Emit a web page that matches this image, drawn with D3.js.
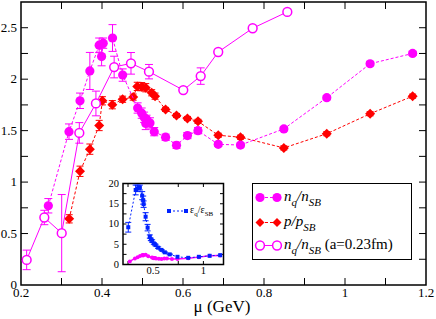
<!DOCTYPE html>
<html>
<head>
<meta charset="utf-8">
<script src="https://cdn.jsdelivr.net/npm/d3@7"></script>
<style>
  html, body { margin: 0; padding: 0; background: #fff; }
  svg { display: block; font-family: 'Liberation Serif', 'Times New Roman', serif; }
</style>
</head>
<body>
<div id="chart"></div>
<script>
// n_q / n_SB (filled circles)
const nqMu = [0.2675, 0.3185, 0.3457, 0.370, 0.393, 0.399, 0.403, 0.426, 0.451, 0.488, 0.498, 0.504, 0.508, 0.510, 0.5185, 0.529, 0.557, 0.584, 0.611, 0.637, 0.687, 0.742, 0.849, 0.955, 1.062, 1.167];
const nqVal = [0.77, 1.49, 1.79, 2.08, 2.33, 2.22, 2.35, 2.40, 2.04, 1.72, 1.67, 1.63, 1.57, 1.61, 1.575, 1.49, 1.436, 1.358, 1.452, 1.50, 1.367, 1.36, 1.517, 1.82, 2.15, 2.25];
const nqErr = [0.07, 0.075, 0.075, 0.18, 0.07, 0.09, 0.05, 0.13, 0.06, 0.05, 0.05, 0.05, 0.06, 0.04, 0.05, 0.04, 0.03, 0.03, 0.03, 0.03, 0.02, 0.02, 0.02, 0.02, 0.02, 0.02];

// p / p_SB (diamonds)
const pMu = [0.319, 0.3457, 0.370, 0.393, 0.401, 0.4255, 0.451, 0.477, 0.487, 0.498, 0.508, 0.5227, 0.531, 0.557, 0.584, 0.611, 0.637, 0.687, 0.742, 0.849, 0.955, 1.062, 1.167];
const pVal = [0.643, 1.105, 1.32, 1.55, 1.79, 1.752, 1.805, 1.826, 1.93, 1.927, 1.917, 1.868, 1.835, 1.706, 1.647, 1.618, 1.59, 1.455, 1.436, 1.332, 1.47, 1.664, 1.835];
const pErr = [0.04, 0.05, 0.05, 0.05, 0.04, 0.04, 0.03, 0.03, 0.04, 0.04, 0.04, 0.03, 0.03, 0.02, 0.02, 0.02, 0.02, 0.02, 0.02, 0.02, 0.02, 0.02, 0.02];

// n_q / n_SB at a=0.23fm (open circles)
const aMu = [0.214, 0.2576, 0.3005, 0.344, 0.385, 0.430, 0.4716, 0.516, 0.6007, 0.6437, 0.687, 0.772, 0.8576];
const aVal = [0.244, 0.656, 0.504, 1.478, 1.764, 2.118, 2.154, 2.073, 1.894, 2.03, 2.264, 2.495, 2.654];
const aErr = [0.095, 0.07, 0.375, 0.1, 0.12, 0.105, 0.105, 0.07, 0, 0.08, 0, 0, 0];

// inset: eps_q / eps_SB
const eMu = [0.2525, 0.326, 0.345, 0.368, 0.391, 0.401, 0.405, 0.425, 0.445, 0.467, 0.477, 0.49, 0.507, 0.524, 0.55, 0.583, 0.616, 0.665, 0.742, 0.849, 0.955, 1.062, 1.167];
const eVal = [9.2, 18.4, 18.8, 19.0, 17.0, 15.9, 14.9, 11.8, 9.1, 6.9, 6.2, 5.8, 5.2, 4.8, 4.15, 3.6, 3.0, 2.5, 1.9, 1.65, 1.9, 2.15, 2.3];
const eErr = [1.2, 1.2, 0.8, 0.6, 1.0, 1.0, 0.8, 1.0, 0.8, 0.4, 0.3, 0.3, 0.2, 0.2, 0.2, 0.1, 0.1, 0.1, 0, 0, 0, 0, 0];

const xTicks = [0.2, 0.4, 0.6, 0.8, 1, 1.2];
const yTicks = [0, 0.5, 1, 1.5, 2, 2.5];
const insetXTicks = [0.5, 1];
const insetYTicks = [0, 5, 10, 15, 20];

const MAGENTA = '#ff00ff';
const RED = '#ff0000';
const BLUE = '#0022ff';

const attrs = {
  svgWidth: 436,
  svgHeight: 319,
  left: 21, right: 426, top: 2, bottom: 285,
  inset: { left: 123, right: 223.5, top: 183.5, bottom: 264.5 }
};

const svg = d3.select('#chart').append('svg')
  .attr('width', attrs.svgWidth)
  .attr('height', attrs.svgHeight);

const x = d3.scaleLinear().domain([0.2, 1.2]).range([attrs.left, attrs.right]);
const y = d3.scaleLinear().domain([0, 2.75]).range([attrs.bottom, attrs.top]);

const zip = (xs, ys, es) => xs.map((d, i) => ({ x: d, y: ys[i], e: es ? es[i] : 0 }));

const nqData = zip(nqMu, nqVal, nqErr);
const pData = zip(pMu, pVal, pErr);
const aData = zip(aMu, aVal, aErr);
const eData = zip(eMu, eVal, eErr);

// Axes with inward ticks on all four sides.
function drawAxes(g, xs, ys, xt, yt, xMinor, yMinor, tickLen, fontSize, fmt) {
  const [x0, x1] = xs.range();
  const [y0, y1] = ys.range();
  const tl = g.append('g').attr('stroke', '#000').attr('stroke-width', 1);
  xMinor.forEach(v => {
    tl.append('line').attr('x1', xs(v)).attr('x2', xs(v)).attr('y1', y0).attr('y2', y0 - tickLen);
    tl.append('line').attr('x1', xs(v)).attr('x2', xs(v)).attr('y1', y1).attr('y2', y1 + tickLen);
  });
  yMinor.forEach(v => {
    tl.append('line').attr('y1', ys(v)).attr('y2', ys(v)).attr('x1', x0).attr('x2', x0 + tickLen);
    tl.append('line').attr('y1', ys(v)).attr('y2', ys(v)).attr('x1', x1).attr('x2', x1 - tickLen);
  });
  g.append('rect')
    .attr('x', x0).attr('y', y1)
    .attr('width', x1 - x0).attr('height', y0 - y1)
    .attr('fill', 'none').attr('stroke', '#000').attr('stroke-width', 1.5);
  g.append('g').selectAll('text').data(xt).join('text')
    .attr('x', d => xs(d)).attr('y', y0 + fontSize * 0.95)
    .attr('text-anchor', 'middle').attr('font-size', fontSize)
    .text(fmt);
  g.append('g').selectAll('text').data(yt).join('text')
    .attr('x', x0 - 4).attr('y', d => ys(d) + fontSize * 0.33)
    .attr('text-anchor', 'end').attr('font-size', fontSize)
    .text(fmt);
}

const main = svg.append('g');
drawAxes(main, x, y, xTicks, yTicks,
  d3.range(0.3, 1.2, 0.1), d3.range(0.25, 2.75, 0.25), 7, 13, d => String(d));

main.append('text')
  .attr('x', 222).attr('y', 312)
  .attr('text-anchor', 'middle').attr('font-size', 17)
  .text('\u03bc (GeV)');

const line = (xs, ys) => d3.line().x(d => xs(d.x)).y(d => ys(d.y));

function errorBars(g, data, xs, ys, color, cap, width) {
  g.append('g').attr('stroke', color).attr('stroke-width', width || 1)
    .selectAll('path').data(data.filter(d => d.e > 0)).join('path')
    .attr('d', d => {
      const cx = xs(d.x), t = ys(d.y + d.e), b = ys(d.y - d.e);
      return `M${cx},${t}V${b}M${cx - cap},${t}H${cx + cap}M${cx - cap},${b}H${cx + cap}`;
    });
}

const diamond = (cx, cy, r) => `M${cx},${cy - r}L${cx + r},${cy}L${cx},${cy + r}L${cx - r},${cy}Z`;

const plot = main.append('g');

// p / p_SB
errorBars(plot, pData, x, y, RED, 3.5);
plot.append('path').datum(pData)
  .attr('d', line(x, y)).attr('fill', 'none')
  .attr('stroke', RED).attr('stroke-width', 1).attr('stroke-dasharray', '3,2');
plot.append('g').selectAll('path').data(pData).join('path')
  .attr('d', d => diamond(x(d.x), y(d.y), 5)).attr('fill', RED);

// n_q / n_SB
errorBars(plot, nqData, x, y, MAGENTA, 4);
plot.append('path').datum(nqData)
  .attr('d', line(x, y)).attr('fill', 'none')
  .attr('stroke', MAGENTA).attr('stroke-width', 1).attr('stroke-dasharray', '3,2');
plot.append('g').selectAll('circle').data(nqData).join('circle')
  .attr('cx', d => x(d.x)).attr('cy', d => y(d.y)).attr('r', 4.6)
  .attr('fill', MAGENTA);

// a = 0.23 fm
errorBars(plot, aData, x, y, MAGENTA, 4);
plot.append('path').datum(aData)
  .attr('d', line(x, y)).attr('fill', 'none')
  .attr('stroke', MAGENTA).attr('stroke-width', 1);
plot.append('g').selectAll('circle').data(aData).join('circle')
  .attr('cx', d => x(d.x)).attr('cy', d => y(d.y)).attr('r', 4.4)
  .attr('fill', '#fff').attr('stroke', MAGENTA).attr('stroke-width', 1.5);

// Inset.
const ins = attrs.inset;
const ix = d3.scaleLinear().domain([0.2, 1.2]).range([ins.left, ins.right]);
const iy = d3.scaleLinear().domain([0, 20]).range([ins.bottom, ins.top]);
const inset = svg.append('g');
inset.append('rect')
  .attr('x', ins.left).attr('y', ins.top)
  .attr('width', ins.right - ins.left).attr('height', ins.bottom - ins.top)
  .attr('fill', '#fff');
drawAxes(inset, ix, iy, insetXTicks, insetYTicks,
  [0.25, 0.75, 1], [2.5, 5, 7.5, 10, 12.5, 15, 17.5], 3.5, 10.5, d => String(d));

inset.append('g').selectAll('circle').data(nqData).join('circle')
  .attr('cx', d => ix(d.x)).attr('cy', d => iy(d.y)).attr('r', 2)
  .attr('fill', MAGENTA);
inset.append('path').datum(nqData)
  .attr('d', line(ix, iy)).attr('fill', 'none')
  .attr('stroke', MAGENTA).attr('stroke-width', 1.5);

errorBars(inset, eData, ix, iy, BLUE, 3);
inset.append('path').datum(eData)
  .attr('d', line(ix, iy)).attr('fill', 'none')
  .attr('stroke', BLUE).attr('stroke-width', 1).attr('stroke-dasharray', '2,2');
inset.append('g').selectAll('rect').data(eData).join('rect')
  .attr('x', d => ix(d.x) - 2).attr('y', d => iy(d.y) - 2)
  .attr('width', 4).attr('height', 4).attr('fill', BLUE);

// Inset legend.
const il = inset.append('g');
il.append('line').attr('x1', 169).attr('x2', 186).attr('y1', 211).attr('y2', 211)
  .attr('stroke', BLUE).attr('stroke-dasharray', '2,2');
[169, 186].forEach(cx => il.append('rect')
  .attr('x', cx - 2).attr('y', 209).attr('width', 4).attr('height', 4).attr('fill', BLUE));
const ilt = il.append('text').attr('x', 190).attr('y', 213).attr('font-size', 10);
ilt.append('tspan').text('\u03b5');
ilt.append('tspan').attr('dy', 3).attr('font-size', 7).text('q');
ilt.append('tspan').attr('dy', -3).text('/\u03b5');
ilt.append('tspan').attr('dy', 3).attr('font-size', 7).text('SB');

// Main legend.
const legend = svg.append('g');
legend.append('rect')
  .attr('x', 252.5).attr('y', 183.5).attr('width', 159).attr('height', 76)
  .attr('fill', '#fff').attr('stroke', '#000').attr('stroke-width', 1);

const rows = [
  { cy: 197.5, kind: 'filled', dash: '3,2', color: MAGENTA, extra: '' },
  { cy: 222.5, kind: 'diamond', dash: '3,2', color: RED, extra: '' },
  { cy: 245.5, kind: 'open', dash: null, color: MAGENTA, extra: ' (a=0.23fm)' }
];
rows.forEach((r, i) => {
  legend.append('line')
    .attr('x1', 260).attr('x2', 277).attr('y1', r.cy).attr('y2', r.cy)
    .attr('stroke', r.color).attr('stroke-dasharray', r.dash);
  [260, 277].forEach(cx => {
    if (r.kind === 'filled') {
      legend.append('circle').attr('cx', cx).attr('cy', r.cy).attr('r', 4.6).attr('fill', r.color);
    } else if (r.kind === 'diamond') {
      legend.append('path').attr('d', diamond(cx, r.cy, 4.5)).attr('fill', r.color);
    } else {
      legend.append('circle').attr('cx', cx).attr('cy', r.cy).attr('r', 4.4)
        .attr('fill', '#fff').attr('stroke', r.color).attr('stroke-width', 1.5);
    }
  });
  const t = legend.append('text').attr('x', 284).attr('y', r.cy + 3).attr('font-size', 15);
  if (i === 1) {
    t.append('tspan').attr('font-style', 'italic').text('p/p');
  } else {
    t.append('tspan').attr('font-style', 'italic').text('n');
    t.append('tspan').attr('dy', 5).attr('font-size', 11).attr('font-style', 'italic').text('q');
    t.append('tspan').attr('dy', -5).attr('font-style', 'italic').text('/n');
  }
  t.append('tspan').attr('dy', 5).attr('font-size', 11).attr('font-style', 'italic').text('SB');
  if (r.extra) t.append('tspan').attr('dy', -5).text(r.extra);
});
</script>
</body>
</html>
